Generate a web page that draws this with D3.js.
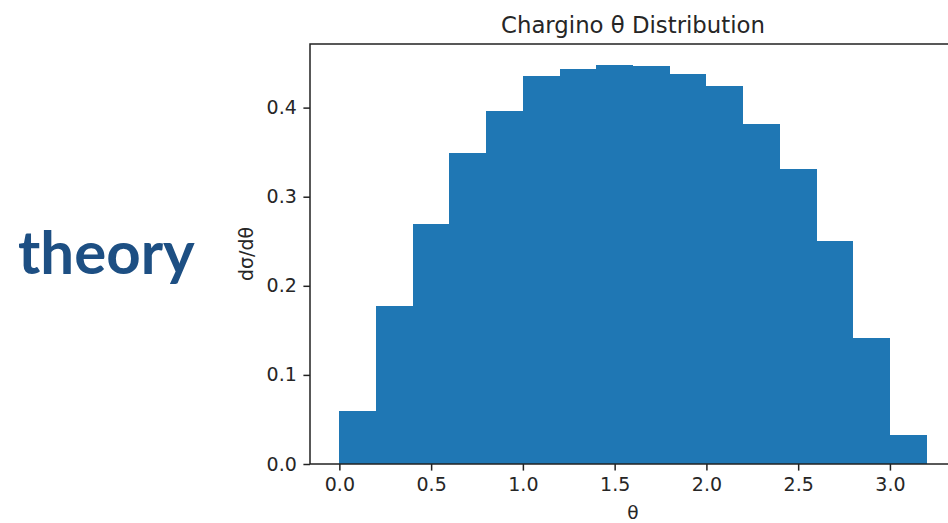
<!DOCTYPE html>
<html>
<head>
<meta charset="utf-8">
<script src="https://cdn.jsdelivr.net/npm/d3@7"></script>
<style>
  html, body { margin: 0; padding: 0; background: #fff; }
  svg { display: block; }
</style>
</head>
<body>
<svg id="chart" width="948" height="523"></svg>
<script>
const binStarts = [0.0, 0.2, 0.4, 0.6, 0.8, 1.0, 1.2, 1.4, 1.6, 1.8, 2.0, 2.2, 2.4, 2.6, 2.8, 3.0];
const binWidth = 0.2;
const density = [0.0595, 0.1777, 0.2690, 0.3487, 0.3965, 0.4358, 0.4433, 0.4478, 0.4463, 0.4374, 0.4246, 0.3812, 0.3314, 0.2499, 0.1410, 0.0329];
const xTicks = [0.0, 0.5, 1.0, 1.5, 2.0, 2.5, 3.0];
const yTicks = [0.0, 0.1, 0.2, 0.3, 0.4];
const titleText = "Chargino θ Distribution";
const xLabel = "θ";
const yLabel = "dσ/dθ";
const sideLabel = "theory";

const svg = d3.select("#chart");
const mLeft = 310, mRight = 956, mTop = 44, mBottom = 464;

const x = d3.scaleLinear().domain([-0.16, 3.36]).range([mLeft, mRight]);
const y = d3.scaleLinear().domain([0, 0.4714]).range([mBottom, mTop]);

// side label
svg.append("text")
  .attr("x", 18).attr("y", 274)
  .attr("font-family", "Lato")
  .attr("font-weight", "bold")
  .attr("font-size", 60)
  .attr("fill", "#1d4f83")
  .text(sideLabel);

// bars
svg.append("g").selectAll("rect")
  .data(binStarts.map((s, i) => ({s, v: density[i]})))
  .join("rect")
  .attr("x", d => x(d.s))
  .attr("width", d => x(d.s + binWidth) - x(d.s))
  .attr("y", d => y(d.v))
  .attr("height", d => y(0) - y(d.v))
  .attr("fill", "#1f77b4")
  .attr("shape-rendering", "crispEdges");

// axes
const tickFont = "DejaVu Sans";
const xAxis = d3.axisBottom(x).tickValues(xTicks).tickFormat(d3.format(".1f")).tickSize(6.6).tickPadding(6.6);
const yAxis = d3.axisLeft(y).tickValues(yTicks).tickFormat(d3.format(".1f")).tickSize(6.6).tickPadding(6.6);

const gx = svg.append("g").attr("transform", `translate(0,${mBottom})`).call(xAxis);
const gy = svg.append("g").attr("transform", `translate(${mLeft},0)`).call(yAxis);
[gx, gy].forEach(g => {
  g.select(".domain").remove();
  g.selectAll("line").attr("stroke", "#222").attr("stroke-width", 1.5);
  g.selectAll("text").attr("font-family", tickFont).attr("font-size", 19).attr("fill", "#262626");
});

// spines
svg.append("rect")
  .attr("x", mLeft).attr("y", mTop)
  .attr("width", mRight - mLeft).attr("height", mBottom - mTop)
  .attr("fill", "none").attr("stroke", "#222").attr("stroke-width", 1.5);

// title
svg.append("text")
  .attr("x", (mLeft + mRight) / 2).attr("y", 33)
  .attr("text-anchor", "middle")
  .attr("font-family", tickFont).attr("font-size", 22.8).attr("fill", "#262626")
  .text(titleText);

// x label
svg.append("text")
  .attr("x", (mLeft + mRight) / 2).attr("y", 519)
  .attr("text-anchor", "middle")
  .attr("font-family", tickFont).attr("font-size", 18.5).attr("fill", "#262626")
  .text(xLabel);

// y label
svg.append("text")
  .attr("transform", `translate(253,${(mTop + mBottom) / 2}) rotate(-90)`)
  .attr("text-anchor", "middle")
  .attr("font-family", tickFont).attr("font-size", 19).attr("fill", "#262626")
  .text(yLabel);
</script>
</body>
</html>
